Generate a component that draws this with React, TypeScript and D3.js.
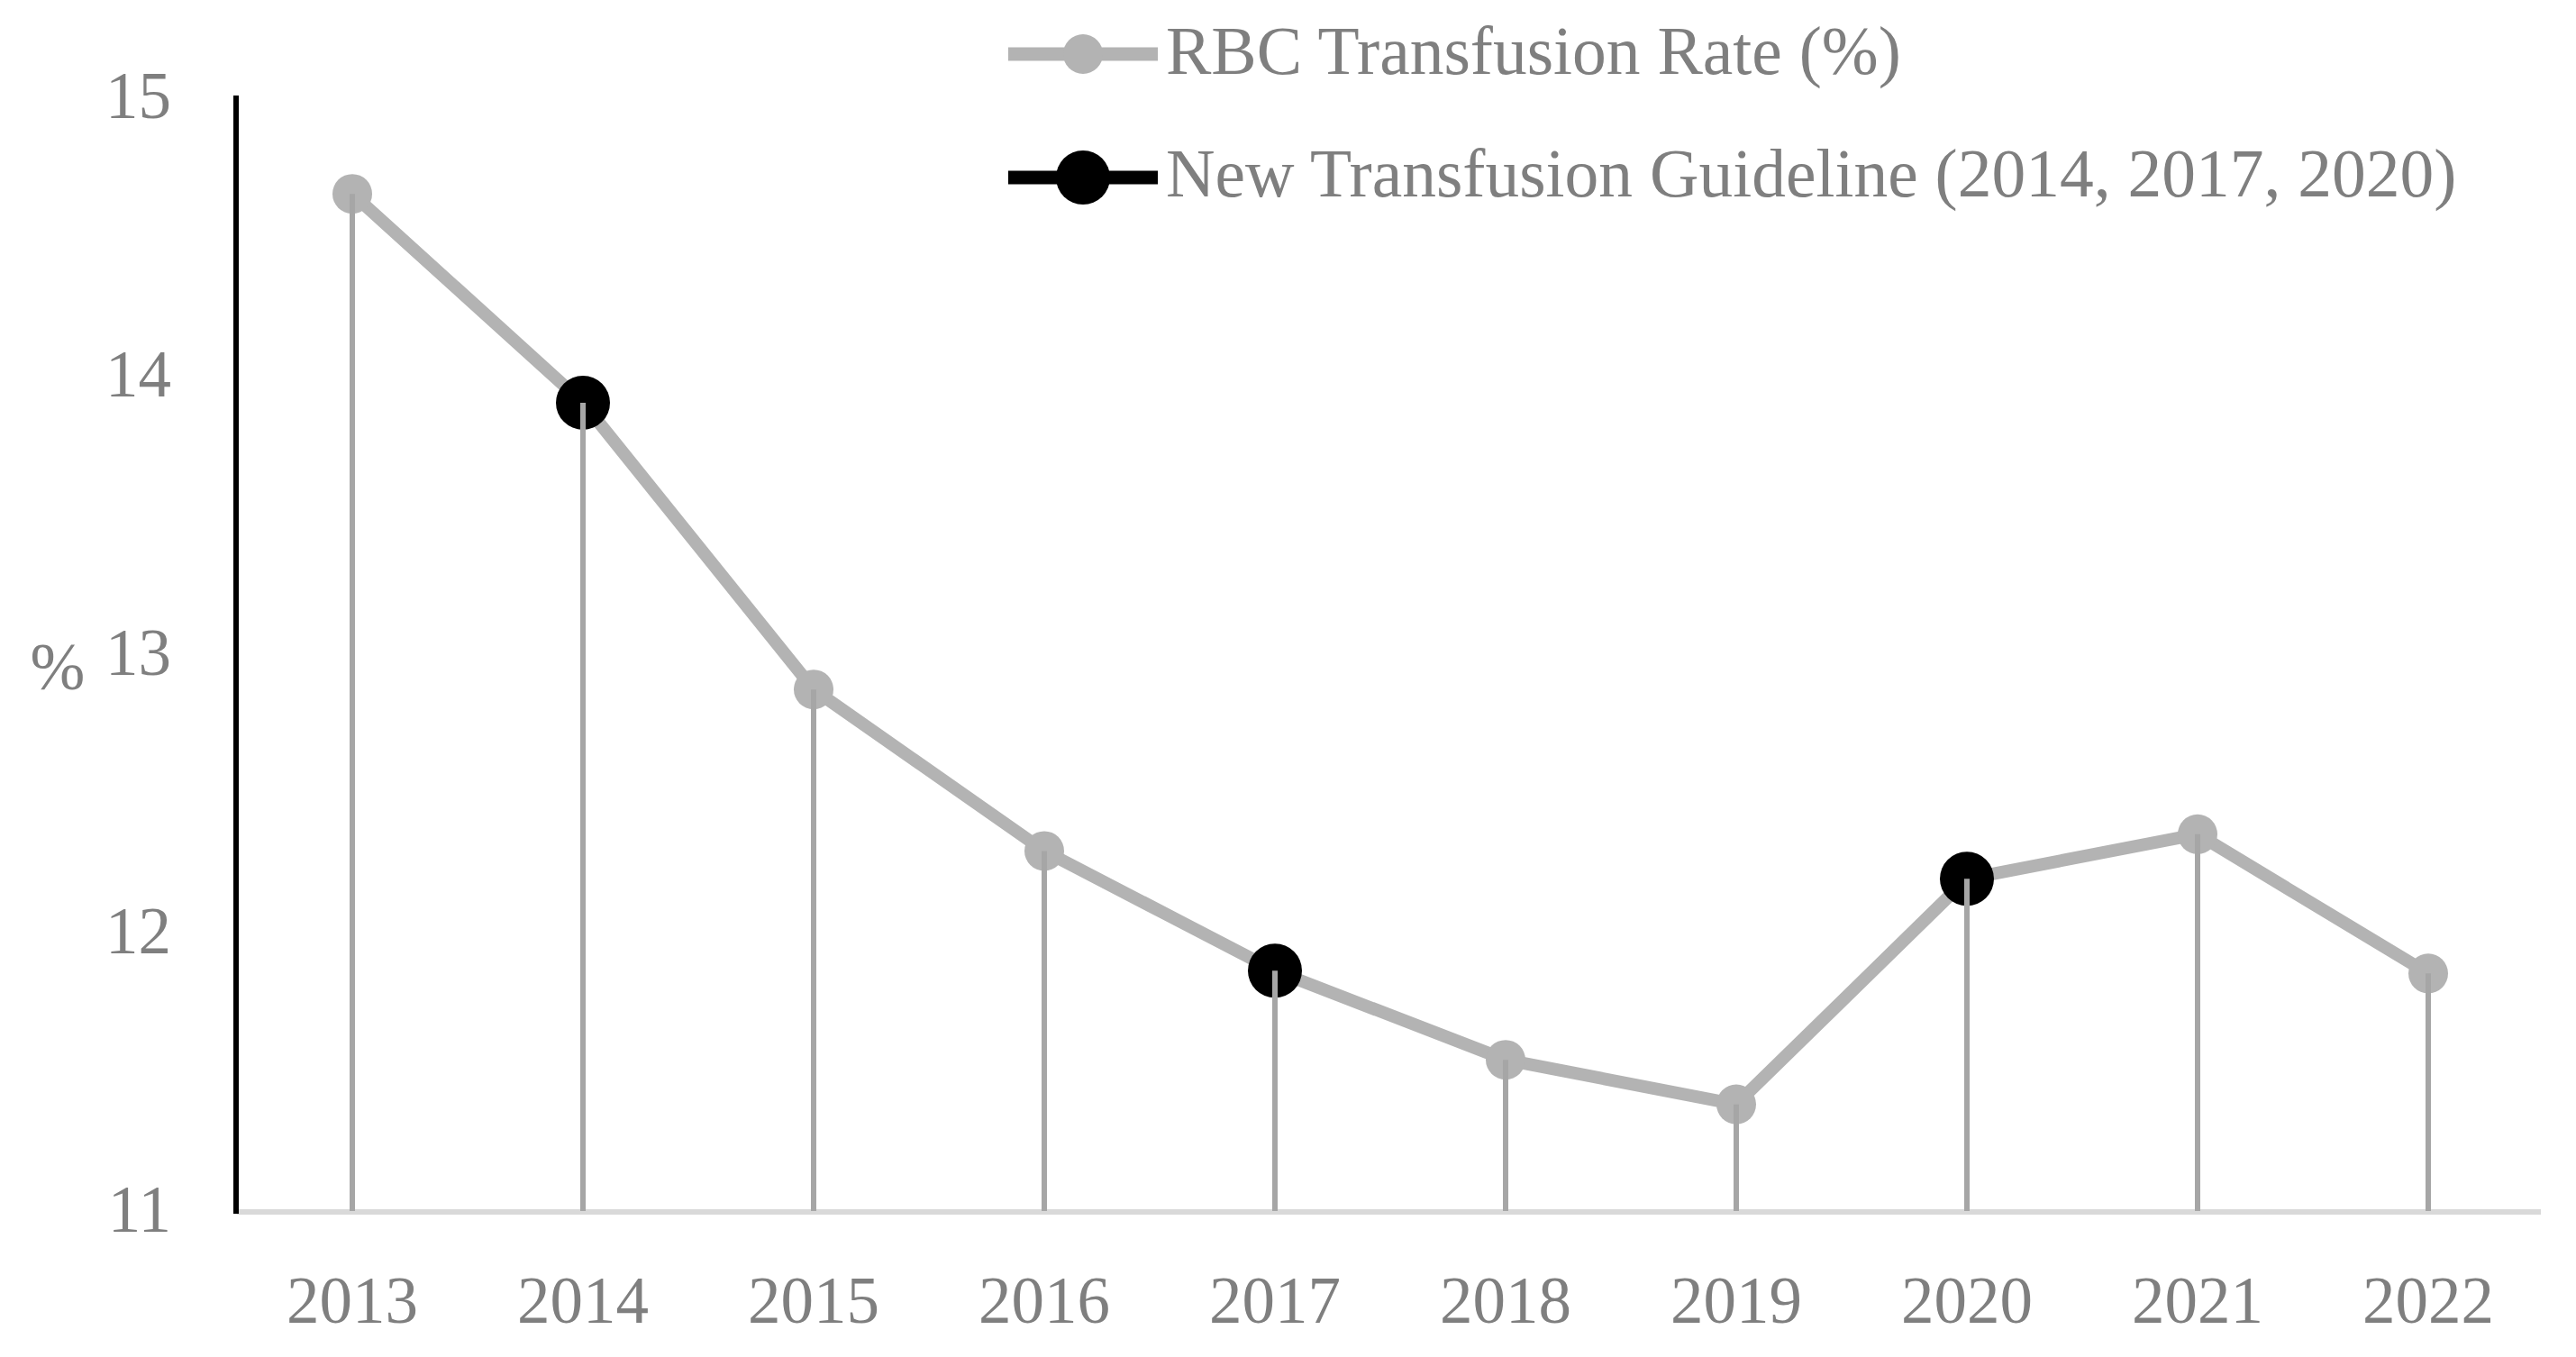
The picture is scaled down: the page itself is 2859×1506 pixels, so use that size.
import * as d3 from 'd3';

// RBC transfusion rate by year
const years = ['2013', '2014', '2015', '2016', '2017', '2018', '2019', '2020', '2021', '2022'];
const rates = [14.65, 13.9, 12.87, 12.29, 11.86, 11.54, 11.38, 12.19, 12.35, 11.85];
const guidelineYears = ['2014', '2017', '2020'];
const yTicks = [11, 12, 13, 14, 15];
const seriesLabel = 'RBC Transfusion Rate (%)';
const guidelineLabel = 'New Transfusion Guideline (2014, 2017, 2020)';
const yTitle = '%';

const W = 2859;
const H = 1506;
const FONT = '"Palatino Linotype", "Book Antiqua", Palatino, "Liberation Serif", serif';
const TEXT = '#7f7f7f';
const LINE = '#b3b3b3';
const DROP = '#a6a6a6';

export default function App() {
    const x = d3.scaleBand<string>().domain(years).range([263, 2823]);
    const y = d3.scaleLinear().domain([11, 15]).range([1343, 107]);
    const cx = (d: string) => (x(d) ?? 0) + x.bandwidth() / 2;

    const points = years.map((yr, i) => ({ yr, v: rates[i] }));
    const line = d3.line<{ yr: string; v: number }>()
        .x(d => cx(d.yr))
        .y(d => y(d.v));

    const legendX1 = 1119;
    const legendX2 = 1285;
    const legendMid = (legendX1 + legendX2) / 2;

    return (
        <svg width={W} height={H} style={{ position: 'absolute', left: 0, top: 0, background: '#fff' }}
            fontFamily={FONT}>
            {/* x axis */}
            <line x1={263} x2={2820} y1={y(11) + 2} y2={y(11) + 2} stroke="#d9d9d9" strokeWidth={6} />

            {/* series line */}
            <path d={line(points) ?? ''} fill="none" stroke={LINE} strokeWidth={14} strokeLinejoin="round" />

            {/* markers */}
            {points.map(p => {
                const isGuide = guidelineYears.includes(p.yr);
                return (
                    <circle key={p.yr} cx={cx(p.yr)} cy={y(p.v)} r={isGuide ? 30 : 22}
                        fill={isGuide ? '#000' : LINE} />
                );
            })}

            {/* drop lines */}
            {points.map(p => (
                <line key={'d' + p.yr} x1={cx(p.yr)} x2={cx(p.yr)} y1={y(p.v)} y2={y(11) + 1}
                    stroke={DROP} strokeWidth={6} />
            ))}

            {/* y axis */}
            <line x1={262} x2={262} y1={y(15) - 1} y2={y(11) + 4} stroke="#000" strokeWidth={6} />

            {/* y tick labels */}
            {yTicks.map(t => (
                <text key={t} x={190} y={y(t)} dy="0.33em" textAnchor="end" fontSize={73} fill={TEXT}>{t}</text>
            ))}
            <text x={64} y={765} textAnchor="middle" fontSize={73} fill={TEXT}>{yTitle}</text>

            {/* x tick labels */}
            {years.map(yr => (
                <text key={yr} x={cx(yr)} y={1468} textAnchor="middle" fontSize={73} fill={TEXT}>{yr}</text>
            ))}

            {/* legend */}
            <line x1={legendX1} x2={legendX2} y1={60} y2={60} stroke={LINE} strokeWidth={15} />
            <circle cx={legendMid} cy={60} r={22} fill={LINE} />
            <text x={1294} y={82} fontSize={75.5} fill={TEXT}>{seriesLabel}</text>

            <line x1={legendX1} x2={legendX2} y1={197} y2={197} stroke="#000" strokeWidth={15} />
            <circle cx={legendMid} cy={197} r={30} fill="#000" />
            <text x={1294} y={218} fontSize={75.5} fill={TEXT}>{guidelineLabel}</text>
        </svg>
    );
}
